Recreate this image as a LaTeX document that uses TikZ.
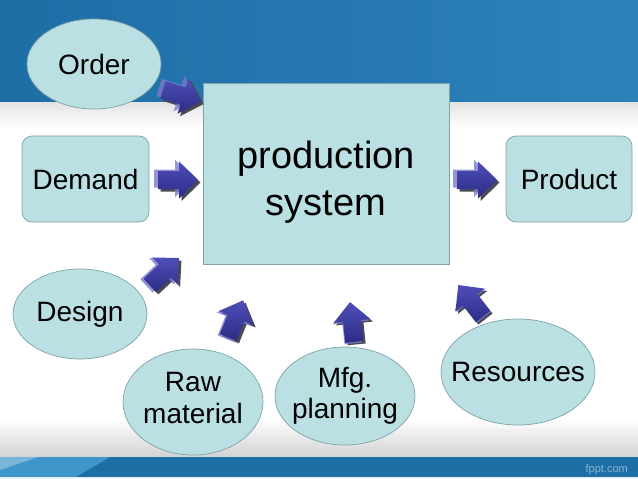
\documentclass[tikz,border=0pt]{standalone}
\usepackage{fontspec}
\setmainfont{Liberation Sans}
\usetikzlibrary{shapes.geometric}
\definecolor{bandblue}{HTML}{1E6EA6}
\definecolor{bandblueR}{HTML}{2C82B9}
\definecolor{bandlight}{HTML}{3F96CA}
\definecolor{boxfill}{HTML}{BAE0E4}
\definecolor{boxline}{HTML}{7DA3A8}
\definecolor{arrtop}{HTML}{4E4EB8}
\definecolor{arrbot}{HTML}{2C2C86}
\definecolor{arrshade}{HTML}{4A4A52}
\definecolor{arrghost}{HTML}{7A7ACC}
\definecolor{fpptcol}{HTML}{8DB5D3}
\newcommand\zw[1]{\makebox[0pt]{#1}}
\def\arrshape{(-21,-9) -- (0,-9) -- (0,-18.5) -- (19,0) -- (0,18.5) -- (0,9) -- (-21,9) -- cycle}
\newcommand\blockarr[3]{%
  \begin{scope}[shift={(#1,-#2)}]
    \begin{scope}[shift={(2.5,-2.5)},rotate=#3]
      \fill[arrshade] \arrshape;
    \end{scope}
    \begin{scope}[shift={(-1,1.5)},rotate=#3]
      \fill[arrghost,opacity=0.8] [shift={(-3,0)}] \arrshape;
    \end{scope}
    \begin{scope}[rotate=#3]
      \shade[top color=arrtop,bottom color=arrbot] \arrshape;
    \end{scope}
  \end{scope}}
\tikzset{
  oval/.style={ellipse, draw=boxline, fill=boxfill, line width=0.7pt, inner sep=0pt,
    font=\fontsize{28}{32}\selectfont, align=center},
  rbox/.style={rectangle, rounded corners=10pt, draw=boxline, fill=boxfill, line width=0.7pt,
    inner sep=0pt, font=\fontsize{28}{32}\selectfont},
  mainbox/.style={rectangle, draw=boxline, fill=boxfill, line width=0.7pt, inner sep=0pt,
    font=\fontsize{38}{47}\selectfont, align=center}
}
\begin{document}
\begin{tikzpicture}[x=1pt,y=1pt]
\useasboundingbox (0,0) rectangle (638,-479);
% background
\fill[white] (0,0) rectangle (638,-479);
\shade[left color=bandblue, right color=bandblueR] (0,0) rectangle (638,-102);
\shade[top color=gray!22, bottom color=white] (0,-102) rectangle (638,-128);
\shade[top color=white, bottom color=gray!35] (0,-418) rectangle (638,-457);
\fill[bandblue] (0,-457) rectangle (638,-477);
\fill[bandlight] (0,-457) -- (110,-457) -- (76,-477) -- (0,-477) -- cycle;
\fill[bandlight!70!white] (0,-457) -- (38,-457) -- (0,-470) -- cycle;
\fill[gray!12] (0,-477) rectangle (638,-479);
\node[font=\fontsize{11}{13}\selectfont, text=fpptcol, anchor=base east, inner sep=0pt] (fppt) at (628,-472) {fppt.com};
% nodes
\node[mainbox, minimum width=246pt, minimum height=181pt] (ps) at (326,-173.5)
  {\rule{0pt}{44pt}production\\system};
\node[oval, minimum width=134pt, minimum height=90pt] (order) at (94,-64) {\zw{Order}};
\node[rbox, minimum width=127pt, minimum height=86pt] (demand) at (85.5,-179) {Demand};
\node[rbox, minimum width=126pt, minimum height=86pt] (product) at (569,-179) {Product};
\node[oval, minimum width=134pt, minimum height=90pt] (design) at (80,-314) {\zw{Design}};
\node[oval, minimum width=140pt, minimum height=106pt] (raw) at (193,-402)
  {\zw{Raw}\\\zw{material}\rule[-8pt]{0pt}{8pt}};
\node[oval, minimum width=140pt, minimum height=98pt, font=\fontsize{28}{31}\selectfont] (mfg) at (345,-396)
  {\zw{Mfg.}\\\zw{planning}};
\node[oval, minimum width=154pt, minimum height=106pt] (res) at (518,-372) {\zw{Resources}};
% block arrows
\blockarr{183}{96}{-17}
\blockarr{179}{180}{0}
\blockarr{478}{180}{0}
\blockarr{165}{271}{43}
\blockarr{236}{318}{68}
\blockarr{352}{321}{96}
\blockarr{470}{300}{128}
\end{tikzpicture}
\end{document}
